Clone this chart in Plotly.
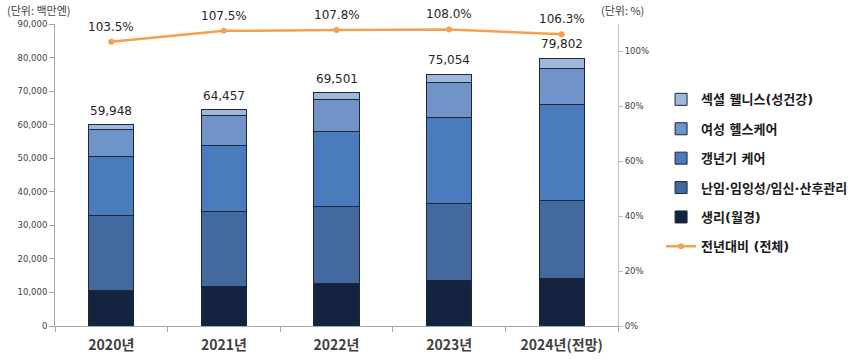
import plotly.graph_objects as go

years = ["2020년", "2021년", "2022년", "2023년", "2024년(전망)"]
totals = [59948, 64457, 69501, 75054, 79802]
menstruation = [10500, 11800, 12800, 13600, 14100]
fertility = [22400, 22450, 22750, 23050, 23450]
menopause = [17500, 19650, 22350, 25550, 28600]
womens_health = [8300, 8850, 9650, 10300, 10650]
sexual_wellness = [t - a - b - c - d for t, a, b, c, d in
                   zip(totals, menstruation, fertility, menopause, womens_health)]
yoy = [103.5, 107.5, 107.8, 108.0, 106.3]
pct_ticks = [0, 20, 40, 60, 80, 100]

series = [
    ("생리(월경)", menstruation, "#14243f", 5),
    ("난임·임잉성/임신·산후관리", fertility, "#43699e", 4),
    ("갱년기 케어", menopause, "#4a7bbd", 3),
    ("여성 헬스케어", womens_health, "#7093c8", 2),
    ("섹셜 웰니스(성건강)", sexual_wellness, "#a0b7dc", 1),
]

NUM_FONT = "DejaVu Sans, Noto Sans CJK KR"
KR_FONT = "Noto Sans CJK KR, DejaVu Sans"

fig = go.Figure()
for name, vals, color, rank in series:
    fig.add_trace(go.Bar(
        x=years, y=vals, name="<b>" + name + "</b>",
        marker=dict(color=color, line=dict(color="#1b2840", width=1)),
        width=0.4, legendrank=rank, legendgroup=name,
    ))

fig.add_trace(go.Scatter(
    x=years, y=yoy, yaxis="y2", name="<b>전년대비 (전체)</b>",
    mode="lines+markers",
    line=dict(color="#f5a04e", width=2.5),
    marker=dict(color="#f5a04e", size=6),
    legendrank=6, legendgroup="yoy",
))

for x, t in zip(years, totals):
    fig.add_annotation(x=x, y=t, xref="x", yref="y", text=f"{t:,}",
                       showarrow=False, yanchor="bottom", yshift=5,
                       font=dict(family=NUM_FONT, size=12, color="#262626"))
for x, v in zip(years, yoy):
    fig.add_annotation(x=x, y=v, xref="x", yref="y2", text=f"{v:.1f}%",
                       showarrow=False, yanchor="bottom", yshift=6,
                       font=dict(family=NUM_FONT, size=12, color="#262626"))

fig.add_annotation(x=-0.089, y=1.046, xref="paper", yref="paper",
                   text="(단위: 백만엔)", showarrow=False, xanchor="left",
                   yanchor="middle", font=dict(family=KR_FONT, size=11, color="#404040"))
fig.add_annotation(x=0.966, y=1.046, xref="paper", yref="paper",
                   text="(단위: %)", showarrow=False, xanchor="left",
                   yanchor="middle", font=dict(family=KR_FONT, size=11, color="#404040"))

fig.update_layout(
    width=853, height=359,
    margin=dict(l=55, r=235, t=24, b=33),
    barmode="stack",
    plot_bgcolor="white", paper_bgcolor="white",
    showlegend=True,
    legend=dict(xref="container", x=0.775, y=0.8, xanchor="left", yanchor="top",
                traceorder="grouped", tracegroupgap=9.5,
                font=dict(family=NUM_FONT, size=13, color="#1a1a1a"),
                bgcolor="rgba(0,0,0,0)"),
    xaxis=dict(showline=True, linecolor="#a6a6a6", ticks="outside",
               tickson="boundaries", ticklen=5, tickcolor="#a6a6a6",
               ticklabelstandoff=6, automargin=False,
               tickfont=dict(family=KR_FONT, size=14, color="#404040"),
               tickprefix="<b>", ticksuffix="</b>", showgrid=False),
    yaxis=dict(range=[0, 90000], dtick=10000, tickformat=",d",
               showline=True, linecolor="#a6a6a6", ticks="outside",
               ticklen=5, tickcolor="#a6a6a6", showgrid=False, zeroline=False,
               automargin=False,
               tickfont=dict(family=NUM_FONT, size=8.5, color="#404040")),
    yaxis2=dict(range=[0, 110], tickvals=pct_ticks,
                ticktext=[f"{p}%" for p in pct_ticks],
                overlaying="y", side="right", automargin=False,
                showline=True, linecolor="#bfbfbf", ticks="outside",
                ticklen=4, tickcolor="#bfbfbf", showgrid=False, zeroline=False,
                tickfont=dict(family=NUM_FONT, size=8.5, color="#404040")),
)

fig.write_html("out.html", config={"displayModeBar": False},
               post_script="document.body.style.margin='0';")
